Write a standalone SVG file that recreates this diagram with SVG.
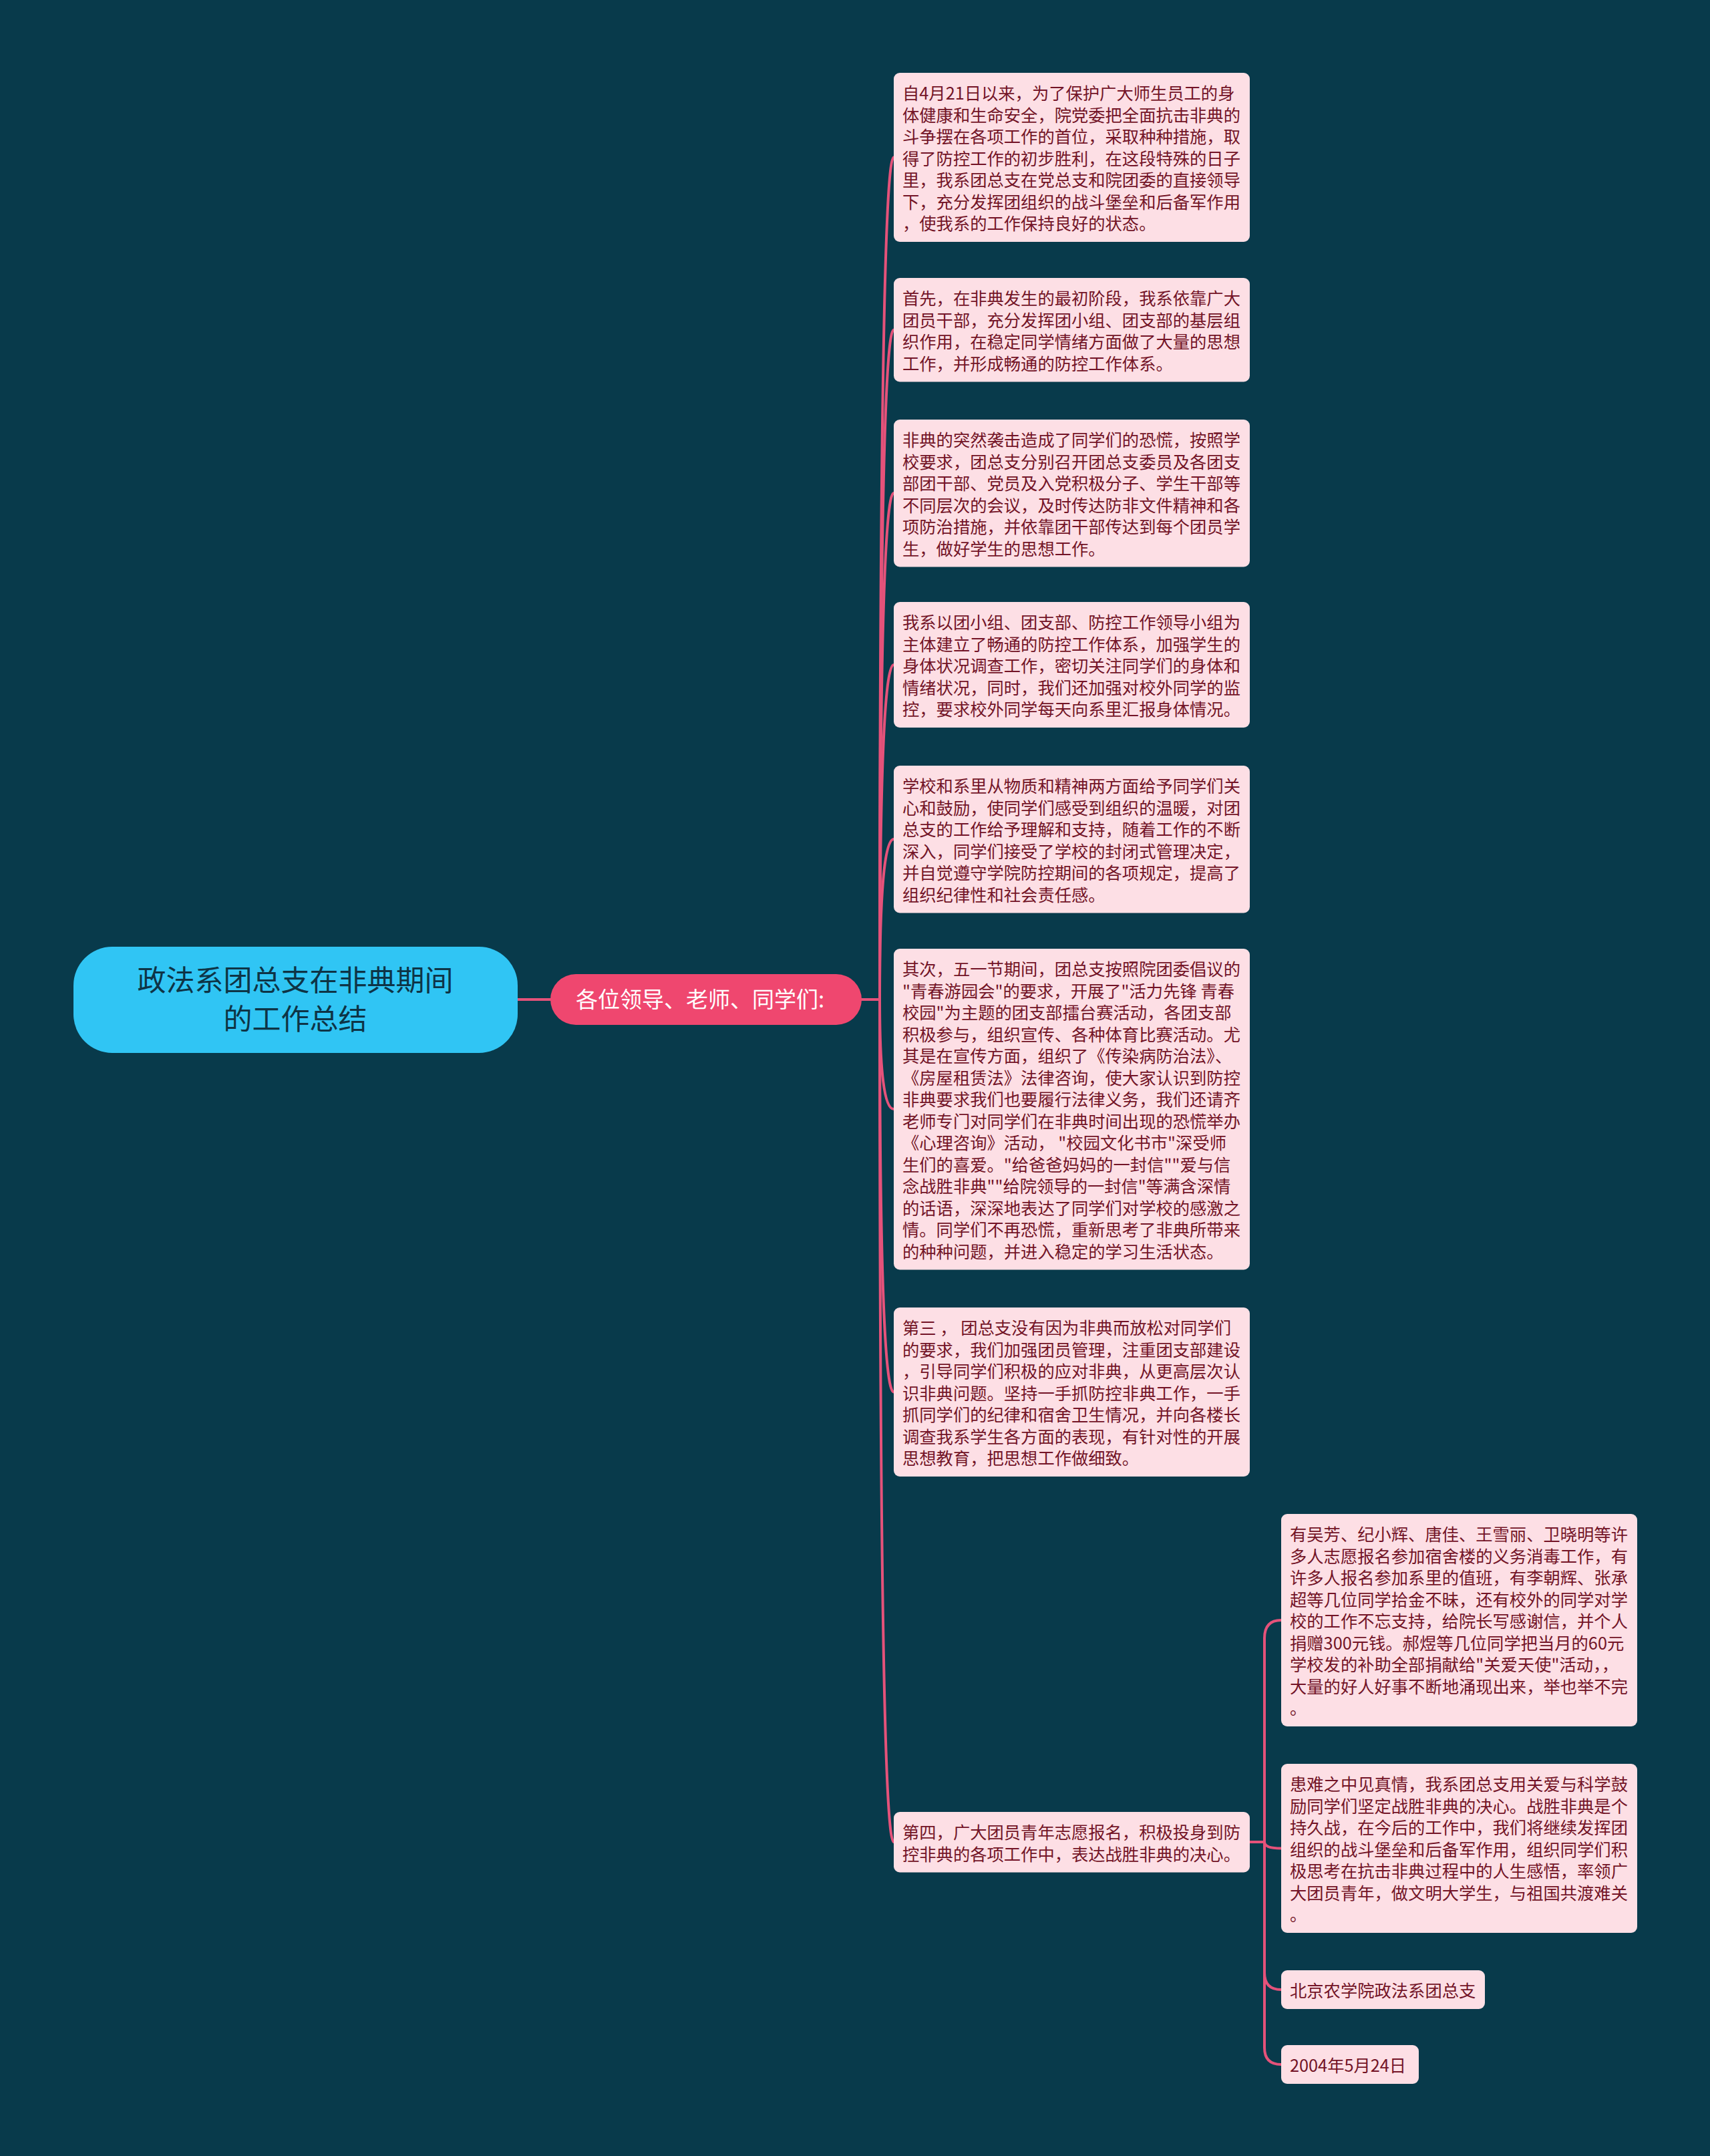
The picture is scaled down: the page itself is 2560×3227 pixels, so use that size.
<svg xmlns="http://www.w3.org/2000/svg" width="2560" height="3227" viewBox="0 0 2560 3227">
<style>
.bg{fill:#083a4b}
.leaf{fill:#fddfe5}
.lt{font-family:"Noto Sans CJK SC","Noto Sans",sans-serif;font-size:25.3px;fill:#731427}
.conn{fill:none;stroke:#e5527a;stroke-width:4;stroke-linecap:round}
.root{fill:#30c5f4}
.rt{font-family:"Noto Sans CJK SC","Noto Sans",sans-serif;font-size:43px;fill:#0e3446;text-anchor:middle}
.br{fill:#ef476f}
.bt{font-family:"Noto Sans CJK SC","Noto Sans",sans-serif;font-size:33px;fill:#ffffff;text-anchor:middle}
</style>
<rect class="bg" x="0" y="0" width="2560" height="3227"/>
<g id="connectors">
<path class="conn" d="M 775 1496 L 824 1496"/>
<path class="conn" d="M 1290 1496 L 1317 1496 Q 1317 235.5 1338 235.5"/>
<path class="conn" d="M 1290 1496 L 1317 1496 Q 1317 493.75 1338 493.75"/>
<path class="conn" d="M 1290 1496 L 1317 1496 Q 1317 738 1338 738"/>
<path class="conn" d="M 1290 1496 L 1317 1496 Q 1317 995 1338 995"/>
<path class="conn" d="M 1290 1496 L 1317 1496 Q 1317 1256 1338 1256"/>
<path class="conn" d="M 1290 1496 L 1317 1496 Q 1317 1660 1338 1660"/>
<path class="conn" d="M 1290 1496 L 1317 1496 Q 1317 2083.5 1338 2083.5"/>
<path class="conn" d="M 1290 1496 L 1317 1496 Q 1317 2757 1338 2757"/>
<path class="conn" d="M 1871 2757 L 1893 2757 L 1893 2452 Q 1893 2425 1918 2425"/>
<path class="conn" d="M 1871 2757 L 1893 2757 Q 1893 2766.5 1918 2766.5"/>
<path class="conn" d="M 1871 2757 L 1893 2757 L 1893 2953 Q 1893 2978 1918 2978"/>
<path class="conn" d="M 1871 2757 L 1893 2757 L 1893 3065 Q 1893 3090 1918 3090"/>
</g>
<g id="root">
<rect class="root" x="110" y="1417" width="665" height="159" rx="58"/>
<text class="rt" x="442" y="1483">政法系团总支在非典期间</text>
<text class="rt" x="442" y="1541">的工作总结</text>
</g>
<g id="branch">
<rect class="br" x="824" y="1458" width="466" height="76" rx="38"/>
<text class="bt" x="1048" y="1508">各位领导、老师、同学们:</text>
</g>
<g id="c1">
<rect class="leaf" x="1338" y="109" width="533" height="253" rx="9"/>
<text class="lt" x="1351" y="149"><tspan x="1351">自4月21日以来，为了保护广大师生员工的身</tspan><tspan x="1351" dy="32.5">体健康和生命安全，院党委把全面抗击非典的</tspan><tspan x="1351" dy="32.5">斗争摆在各项工作的首位，采取种种措施，取</tspan><tspan x="1351" dy="32.5">得了防控工作的初步胜利，在这段特殊的日子</tspan><tspan x="1351" dy="32.5">里，我系团总支在党总支和院团委的直接领导</tspan><tspan x="1351" dy="32.5">下，充分发挥团组织的战斗堡垒和后备军作用</tspan><tspan x="1351" dy="32.5">，使我系的工作保持良好的状态。</tspan></text>
</g>
<g id="c2">
<rect class="leaf" x="1338" y="416" width="533" height="155.5" rx="9"/>
<text class="lt" x="1351" y="456"><tspan x="1351">首先，在非典发生的最初阶段，我系依靠广大</tspan><tspan x="1351" dy="32.5">团员干部，充分发挥团小组、团支部的基层组</tspan><tspan x="1351" dy="32.5">织作用，在稳定同学情绪方面做了大量的思想</tspan><tspan x="1351" dy="32.5">工作，并形成畅通的防控工作体系。</tspan></text>
</g>
<g id="c3">
<rect class="leaf" x="1338" y="628" width="533" height="220.5" rx="9"/>
<text class="lt" x="1351" y="668"><tspan x="1351">非典的突然袭击造成了同学们的恐慌，按照学</tspan><tspan x="1351" dy="32.5">校要求，团总支分别召开团总支委员及各团支</tspan><tspan x="1351" dy="32.5">部团干部、党员及入党积极分子、学生干部等</tspan><tspan x="1351" dy="32.5">不同层次的会议，及时传达防非文件精神和各</tspan><tspan x="1351" dy="32.5">项防治措施，并依靠团干部传达到每个团员学</tspan><tspan x="1351" dy="32.5">生，做好学生的思想工作。</tspan></text>
</g>
<g id="c4">
<rect class="leaf" x="1338" y="901" width="533" height="188" rx="9"/>
<text class="lt" x="1351" y="941"><tspan x="1351">我系以团小组、团支部、防控工作领导小组为</tspan><tspan x="1351" dy="32.5">主体建立了畅通的防控工作体系，加强学生的</tspan><tspan x="1351" dy="32.5">身体状况调查工作，密切关注同学们的身体和</tspan><tspan x="1351" dy="32.5">情绪状况，同时，我们还加强对校外同学的监</tspan><tspan x="1351" dy="32.5">控，要求校外同学每天向系里汇报身体情况。</tspan></text>
</g>
<g id="c5">
<rect class="leaf" x="1338" y="1146" width="533" height="220.5" rx="9"/>
<text class="lt" x="1351" y="1186"><tspan x="1351">学校和系里从物质和精神两方面给予同学们关</tspan><tspan x="1351" dy="32.5">心和鼓励，使同学们感受到组织的温暖，对团</tspan><tspan x="1351" dy="32.5">总支的工作给予理解和支持，随着工作的不断</tspan><tspan x="1351" dy="32.5">深入，同学们接受了学校的封闭式管理决定，</tspan><tspan x="1351" dy="32.5">并自觉遵守学院防控期间的各项规定，提高了</tspan><tspan x="1351" dy="32.5">组织纪律性和社会责任感。</tspan></text>
</g>
<g id="c6">
<rect class="leaf" x="1338" y="1420" width="533" height="480.5" rx="9"/>
<text class="lt" x="1351" y="1460" xml:space="preserve"><tspan x="1351">其次，五一节期间，团总支按照院团委倡议的</tspan><tspan x="1351" dy="32.5">"青春游园会"的要求，开展了"活力先锋 青春</tspan><tspan x="1351" dy="32.5">校园"为主题的团支部擂台赛活动，各团支部</tspan><tspan x="1351" dy="32.5">积极参与，组织宣传、各种体育比赛活动。尤</tspan><tspan x="1351" dy="32.5">其是在宣传方面，组织了《传染病防治法》、</tspan><tspan x="1351" dy="32.5">《房屋租赁法》法律咨询，使大家认识到防控</tspan><tspan x="1351" dy="32.5">非典要求我们也要履行法律义务，我们还请齐</tspan><tspan x="1351" dy="32.5">老师专门对同学们在非典时间出现的恐慌举办</tspan><tspan x="1351" dy="32.5">《心理咨询》活动， "校园文化书市"深受师</tspan><tspan x="1351" dy="32.5">生们的喜爱。"给爸爸妈妈的一封信""爱与信</tspan><tspan x="1351" dy="32.5">念战胜非典""给院领导的一封信"等满含深情</tspan><tspan x="1351" dy="32.5">的话语，深深地表达了同学们对学校的感激之</tspan><tspan x="1351" dy="32.5">情。同学们不再恐慌，重新思考了非典所带来</tspan><tspan x="1351" dy="32.5">的种种问题，并进入稳定的学习生活状态。</tspan></text>
</g>
<g id="c7">
<rect class="leaf" x="1338" y="1957" width="533" height="253" rx="9"/>
<text class="lt" x="1351" y="1997" xml:space="preserve"><tspan x="1351">第三 ， 团总支没有因为非典而放松对同学们</tspan><tspan x="1351" dy="32.5">的要求，我们加强团员管理，注重团支部建设</tspan><tspan x="1351" dy="32.5">，引导同学们积极的应对非典，从更高层次认</tspan><tspan x="1351" dy="32.5">识非典问题。坚持一手抓防控非典工作，一手</tspan><tspan x="1351" dy="32.5">抓同学们的纪律和宿舍卫生情况，并向各楼长</tspan><tspan x="1351" dy="32.5">调查我系学生各方面的表现，有针对性的开展</tspan><tspan x="1351" dy="32.5">思想教育，把思想工作做细致。</tspan></text>
</g>
<g id="c8">
<rect class="leaf" x="1338" y="2712" width="533" height="90.5" rx="9"/>
<text class="lt" x="1351" y="2752"><tspan x="1351">第四，广大团员青年志愿报名，积极投身到防</tspan><tspan x="1351" dy="32.5">控非典的各项工作中，表达战胜非典的决心。</tspan></text>
</g>
<g id="gc1">
<rect class="leaf" x="1918" y="2266" width="533" height="318" rx="9"/>
<text class="lt" x="1931" y="2306"><tspan x="1931">有吴芳、纪小辉、唐佳、王雪丽、卫晓明等许</tspan><tspan x="1931" dy="32.5">多人志愿报名参加宿舍楼的义务消毒工作，有</tspan><tspan x="1931" dy="32.5">许多人报名参加系里的值班，有李朝辉、张承</tspan><tspan x="1931" dy="32.5">超等几位同学拾金不昧，还有校外的同学对学</tspan><tspan x="1931" dy="32.5">校的工作不忘支持，给院长写感谢信，并个人</tspan><tspan x="1931" dy="32.5">捐赠300元钱。郝煜等几位同学把当月的60元</tspan><tspan x="1931" dy="32.5">学校发的补助全部捐献给"关爱天使"活动，，</tspan><tspan x="1931" dy="32.5">大量的好人好事不断地涌现出来，举也举不完</tspan><tspan x="1931" dy="32.5">。</tspan></text>
</g>
<g id="gc2">
<rect class="leaf" x="1918" y="2640" width="533" height="253" rx="9"/>
<text class="lt" x="1931" y="2680"><tspan x="1931">患难之中见真情，我系团总支用关爱与科学鼓</tspan><tspan x="1931" dy="32.5">励同学们坚定战胜非典的决心。战胜非典是个</tspan><tspan x="1931" dy="32.5">持久战，在今后的工作中，我们将继续发挥团</tspan><tspan x="1931" dy="32.5">组织的战斗堡垒和后备军作用，组织同学们积</tspan><tspan x="1931" dy="32.5">极思考在抗击非典过程中的人生感悟，率领广</tspan><tspan x="1931" dy="32.5">大团员青年，做文明大学生，与祖国共渡难关</tspan><tspan x="1931" dy="32.5">。</tspan></text>
</g>
<g id="gc3">
<rect class="leaf" x="1918" y="2949" width="305" height="58" rx="9"/>
<text class="lt" x="1931" y="2989">北京农学院政法系团总支</text>
</g>
<g id="gc4">
<rect class="leaf" x="1918" y="3061" width="206" height="58" rx="9"/>
<text class="lt" x="1931" y="3101">2004年5月24日</text>
</g>
</svg>
